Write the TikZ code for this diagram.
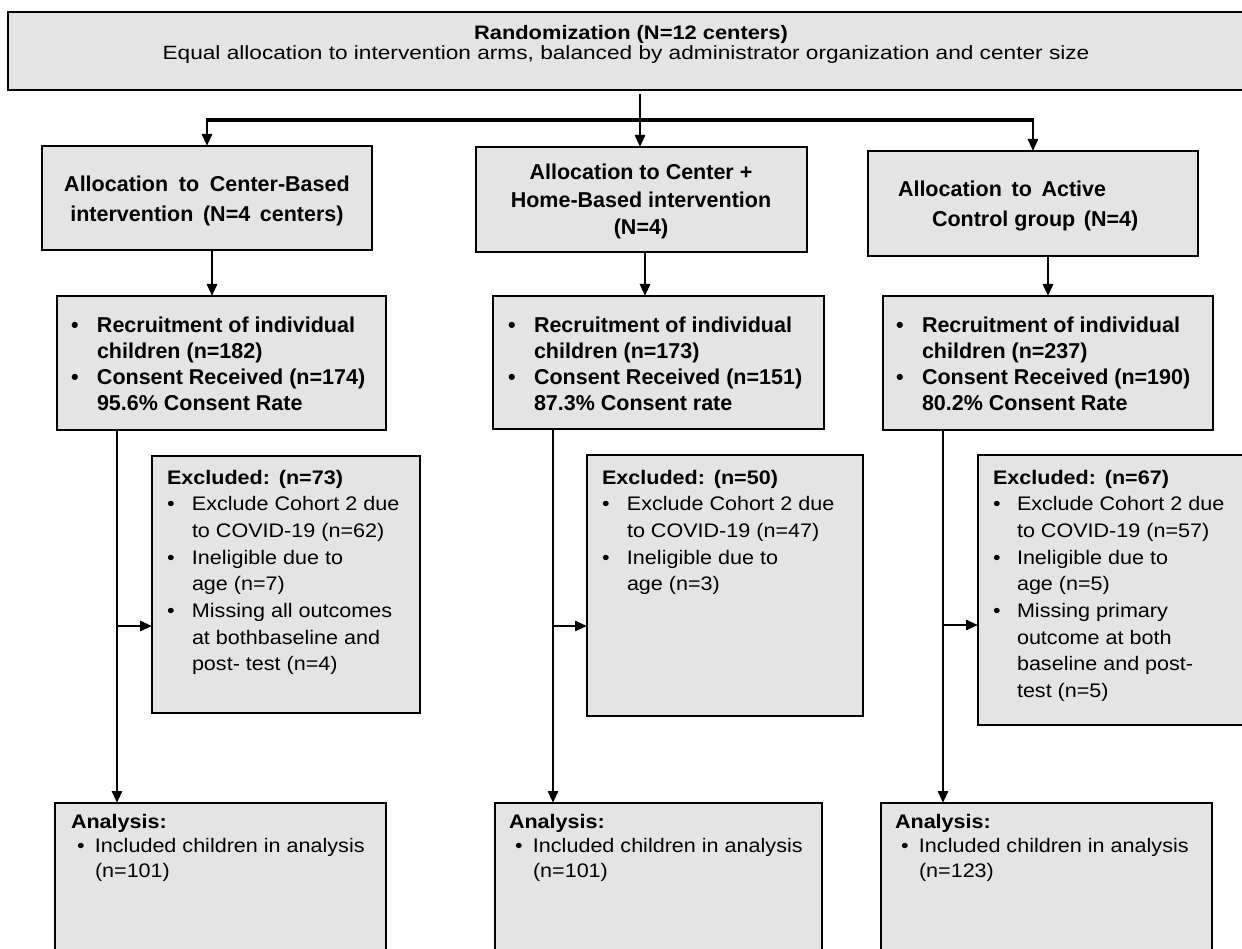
\documentclass[tikz,border=0pt]{standalone}
\usepackage{fontspec}
\setmainfont{Liberation Sans}
\newfontfamily\topfonta[FakeStretch=1.12]{Liberation Sans}
\newfontfamily\topfontb[FakeStretch=1.18]{Liberation Sans}
\newfontfamily\exfont[FakeStretch=1.1]{Liberation Sans}
\usetikzlibrary{arrows.meta}
\definecolor{boxgray}{RGB}{228,228,228}
\newcommand{\bul}[1]{\makebox[#1][l]{\textbullet}}
\newcommand{\ind}[1]{\hspace*{#1}}
\begin{document}
\begin{tikzpicture}[x=1pt,y=-1pt,
  box/.style={draw=black, line width=2.1pt, fill=boxgray, inner sep=0pt, outer sep=0pt, anchor=north west},
  txt/.style={inner sep=0pt, outer sep=0pt, anchor=base west},
  ctxt/.style={inner sep=0pt, outer sep=0pt, anchor=base},
  arr/.style={line width=2.8pt, -{Triangle[length=12pt,width=10pt]}},
]
\fill[white] (0,0) rectangle (1242,949);
\useasboundingbox (0,0) rectangle (1242,949);
\clip (0,0) rectangle (1242,949);

% boxes
\node[box, line width=2.6pt, minimum width=1300pt, minimum height=78pt] (top) at (8,12) {};
\node[box, minimum width=330pt, minimum height=104pt] (alloc1) at (42,146) {};
\node[box, minimum width=331pt, minimum height=105pt] (alloc2) at (476,147) {};
\node[box, minimum width=330pt, minimum height=105pt] (alloc3) at (868,151) {};
\node[box, minimum width=329pt, minimum height=134pt] (rec1) at (57,296) {};
\node[box, minimum width=331pt, minimum height=133pt] (rec2) at (493,296) {};
\node[box, minimum width=330pt, minimum height=134pt] (rec3) at (883,296) {};
\node[box, minimum width=268pt, minimum height=257pt] (excl1) at (152,456) {};
\node[box, minimum width=276pt, minimum height=261pt] (excl2) at (587,455) {};
\node[box, minimum width=300pt, minimum height=270pt] (excl3) at (978,455) {};
\node[box, minimum width=331pt, minimum height=200pt] (ana1) at (55,803) {};
\node[box, minimum width=327pt, minimum height=200pt] (ana2) at (495,803) {};
\node[box, minimum width=331pt, minimum height=200pt] (ana3) at (881,803) {};

% top texts
\node[ctxt] (t1) at (631,40) {\topfonta\fontsize{19.5}{22}\selectfont\bfseries Randomization (N=12 centers)};
\node[ctxt] (t2) at (626,60) {\topfontb\fontsize{19.2}{22}\selectfont Equal allocation to intervention arms, balanced by administrator organization and center size};

% allocation texts
\node[ctxt] (a1t) at (207,192) {\parbox[t]{330pt}{\centering\fontsize{21.5}{30}\selectfont\bfseries Allocation\hspace{0.5em}to\hspace{0.5em}Center-Based\\ intervention\hspace{0.45em}(N=4\hspace{0.45em}centers)}};
\node[ctxt] (a2t) at (641,180) {\parbox[t]{330pt}{\centering\fontsize{21.5}{27.5}\selectfont\bfseries Allocation to Center +\\ Home-Based intervention\\ (N=4)}};
\node[txt] (a3t) at (898,197) {\parbox[t]{330pt}{\fontsize{21.5}{30}\selectfont\bfseries Allocation\hspace{0.45em}to\hspace{0.45em}Active\\ \ind{34pt}Control group\hspace{0.4em}(N=4)}};

% recruitment texts
\node[txt] (r1t) at (71,333) {\parbox[t]{330pt}{\fontsize{21.5}{25.7}\selectfont\bfseries
 \bul{26pt}Recruitment of individual\\ \ind{26pt}children (n=182)\\ \bul{26pt}Consent Received (n=174)\\ \ind{26pt}95.6\% Consent Rate}};
\node[txt] (r2t) at (508,333) {\parbox[t]{330pt}{\fontsize{21.5}{25.7}\selectfont\bfseries
 \bul{26pt}Recruitment of individual\\ \ind{26pt}children (n=173)\\ \bul{26pt}Consent Received (n=151)\\ \ind{26pt}87.3\% Consent rate}};
\node[txt] (r3t) at (896,333) {\parbox[t]{330pt}{\fontsize{21.5}{25.7}\selectfont\bfseries
 \bul{26pt}Recruitment of individual\\ \ind{26pt}children (n=237)\\ \bul{26pt}Consent Received (n=190)\\ \ind{26pt}80.2\% Consent Rate}};

% excluded texts
\node[txt] (e1t) at (167,484) {\parbox[t]{330pt}{\exfont\fontsize{19.6}{26.7}\selectfont
 \textbf{Excluded:\hspace{0.45em}(n=73)}\\ \bul{25pt}Exclude Cohort 2 due\\ \ind{25pt}to COVID-19 (n=62)\\ \bul{25pt}Ineligible due to\\ \ind{25pt}age (n=7)\\ \bul{25pt}Missing all outcomes\\ \ind{25pt}at bothbaseline and\\ \ind{25pt}post- test (n=4)}};
\node[txt] (e2t) at (602,484) {\parbox[t]{330pt}{\exfont\fontsize{19.6}{26.7}\selectfont
 \textbf{Excluded:\hspace{0.45em}(n=50)}\\ \bul{25pt}Exclude Cohort 2 due\\ \ind{25pt}to COVID-19 (n=47)\\ \bul{25pt}Ineligible due to\\ \ind{25pt}age (n=3)}};
\node[txt] (e3t) at (993,484) {\parbox[t]{330pt}{\exfont\fontsize{19.6}{26.7}\selectfont
 \textbf{Excluded:\hspace{0.45em}(n=67)}\\ \bul{24pt}Exclude Cohort 2 due\\ \ind{24pt}to COVID-19 (n=57)\\ \bul{24pt}Ineligible due to\\ \ind{24pt}age (n=5)\\ \bul{24pt}Missing primary\\ \ind{24pt}outcome at both\\ \ind{24pt}baseline and post-\\ \ind{24pt}test (n=5)}};

% analysis texts
\node[txt] (n1t) at (71,828) {\parbox[t]{330pt}{\exfont\fontsize{19.6}{24.5}\selectfont
 \textbf{Analysis:}\\ \makebox[24pt][l]{\hspace{6pt}\textbullet}Included children in analysis\\ \ind{24pt}(n=101)}};
\node[txt] (n2t) at (509,828) {\parbox[t]{330pt}{\exfont\fontsize{19.6}{24.5}\selectfont
 \textbf{Analysis:}\\ \makebox[24pt][l]{\hspace{6pt}\textbullet}Included children in analysis\\ \ind{24pt}(n=101)}};
\node[txt] (n3t) at (895,828) {\parbox[t]{330pt}{\exfont\fontsize{19.6}{24.5}\selectfont
 \textbf{Analysis:}\\ \makebox[24pt][l]{\hspace{6pt}\textbullet}Included children in analysis\\ \ind{24pt}(n=123)}};

% connectors
\coordinate (bar) at (640,120);
\draw[arr] ([yshift=-4pt]top.south -| bar) -- (alloc2.north -| bar);
\draw[line width=3.6pt] ([xshift=-1.4pt]alloc1.north |- bar) -- ([xshift=1.4pt]alloc3.north |- bar);
\draw[arr] (alloc1.north |- bar) -- (alloc1.north);
\draw[arr] (alloc3.north |- bar) -- (alloc3.north);

\draw[arr] (alloc1.south -| 212,0) -- (rec1.north -| 212,0);
\draw[arr] (alloc2.south -| 645,0) -- (rec2.north -| 645,0);
\draw[arr] (alloc3.south -| 1048,0) -- (rec3.north -| 1048,0);

\coordinate (b1) at (117,626);
\coordinate (b2) at (553,626);
\coordinate (b3) at (943,625);
\draw[arr] (rec1.south -| b1) -- (ana1.north -| b1);
\draw[arr] (rec2.south -| b2) -- (ana2.north -| b2);
\draw[arr] (rec3.south -| b3) -- (ana3.north -| b3);
\draw[arr] (b1) -- (excl1.west |- b1);
\draw[arr] (b2) -- (excl2.west |- b2);
\draw[arr] (b3) -- (excl3.west |- b3);
\end{tikzpicture}
\end{document}
